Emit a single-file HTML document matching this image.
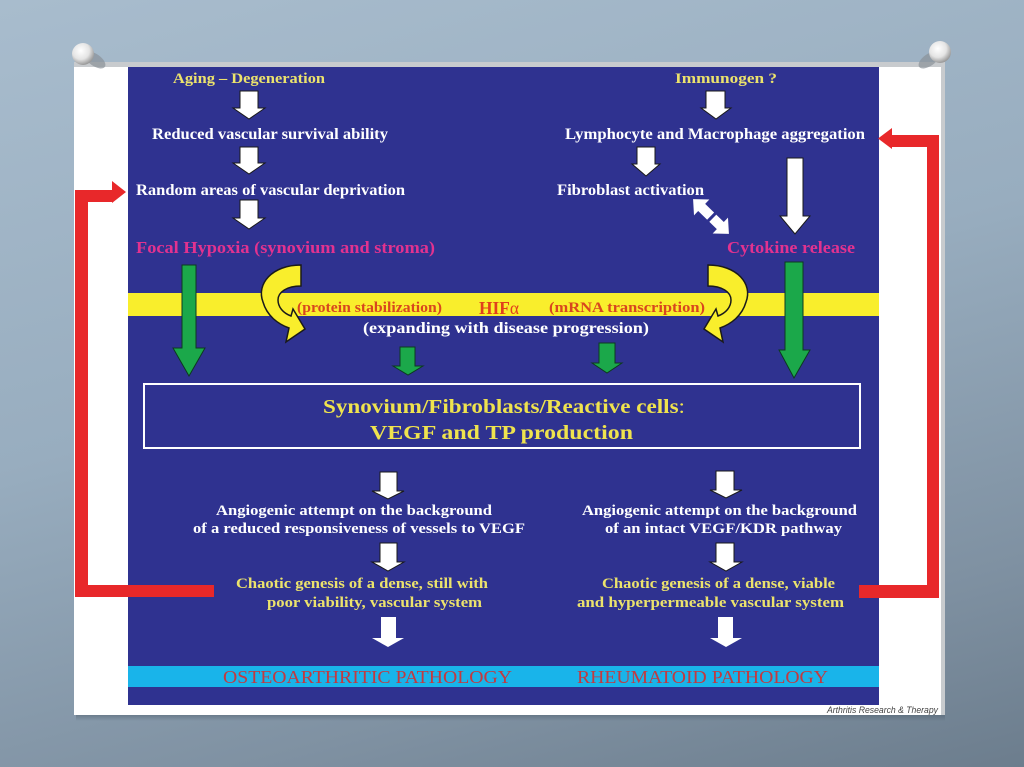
<!DOCTYPE html>
<html><head><meta charset="utf-8">
<style>
html,body{margin:0;padding:0;width:1024px;height:767px;overflow:hidden;}
body{background:linear-gradient(165deg,#a8bccd 0%,#98adbf 45%,#7f91a2 80%,#6c7d8d 100%);}
svg{display:block;}
.s{font-family:"Liberation Serif",serif;font-weight:bold;}
</style></head><body>
<svg width="1024" height="767" viewBox="0 0 1024 767" xmlns="http://www.w3.org/2000/svg">
<defs>
<radialGradient id="pin" cx="40%" cy="35%" r="65%">
<stop offset="0" stop-color="#ffffff"/><stop offset="0.6" stop-color="#e4e4e4"/><stop offset="1" stop-color="#9a9a9a"/>
</radialGradient>
<linearGradient id="sh" x1="0" y1="0" x2="0" y2="1">
<stop offset="0" stop-color="#50606e" stop-opacity="0.5"/><stop offset="1" stop-color="#50606e" stop-opacity="0"/>
</linearGradient>
</defs>

<!-- card shadow -->
<rect x="76" y="715" width="869" height="6" fill="url(#sh)"/>
<!-- card -->
<rect x="74" y="62" width="871" height="653" fill="#c8cbce"/>
<rect x="74" y="67" width="867" height="648" fill="#ffffff"/>
<!-- blue panel -->
<rect x="128" y="67" width="751" height="638" fill="#2f3290"/>

<!-- pins -->
<ellipse cx="95" cy="60" rx="12" ry="6" fill="#8a9298" opacity="0.7" transform="rotate(35 95 60)"/>
<circle cx="83" cy="54" r="11" fill="url(#pin)"/>
<ellipse cx="929" cy="60" rx="12" ry="6" fill="#8a9298" opacity="0.7" transform="rotate(-35 929 60)"/>
<circle cx="940" cy="52" r="11" fill="url(#pin)"/>

<!-- yellow band -->
<rect x="128" y="293" width="751" height="23" fill="#f9ee2c"/>
<!-- cyan band -->
<rect x="128" y="666" width="751" height="21" fill="#19b4ea"/>

<!-- box -->
<rect x="144" y="384" width="716" height="64" fill="none" stroke="#ffffff" stroke-width="2"/>

<!-- red arrows -->
<path d="M75,190 L112,190 L112,181 L126,192 L112,203 L112,202 L88,202 L88,585 L214,585 L214,597 L75,597 Z" fill="#e8282a"/>
<path d="M939,135 L892,135 L892,128 L878,138.5 L892,149 L892,147 L927,147 L927,585 L859,585 L859,598 L939,598 Z" fill="#e8282a"/>

<!-- white arrows (outlined) -->
<g fill="#ffffff" stroke="#1a1a1a" stroke-width="1">
<path d="M240,91 L258,91 L258,108 L265,108 L249,119 L233,108 L240,108 Z"/>
<path d="M240,147 L258,147 L258,163 L265,163 L249,174 L233,163 L240,163 Z"/>
<path d="M240,200 L258,200 L258,218 L265,218 L249,229 L233,218 L240,218 Z"/>
<path d="M706,91 L725,91 L725,108 L731,108 L716,119 L701,108 L706,108 Z"/>
<path d="M637,147 L655,147 L655,164 L660,164 L646,176 L632,164 L637,164 Z"/>
<path d="M787,158 L803,158 L803,216 L810,216 L795,234 L780,216 L787,216 Z"/>
<path d="M380,472 L397,472 L397,491 L404,491 L388,499 L372,491 L380,491 Z"/>
<path d="M380,543 L397,543 L397,562 L404,562 L388,571 L372,562 L380,562 Z"/>
<path d="M716,471 L734,471 L734,490 L742,490 L726,498 L710,490 L716,490 Z"/>
<path d="M716,543 L734,543 L734,562 L742,562 L726,571 L710,562 L716,562 Z"/>
</g>
<g fill="#ffffff">
<path d="M381,617 L396,617 L396,638 L404,638 L388,647 L372,638 L381,638 Z"/>
<path d="M718,617 L733,617 L733,638 L742,638 L726,647 L710,638 L718,638 Z"/>
</g>

<!-- double arrow -->
<g transform="translate(711,216.5) rotate(44.2)">
<polygon points="-25,0 -13,-11 -13,-5 13,-5 13,-11 25,0 13,11 13,5 -13,5 -13,11" fill="#ffffff"/>
<line x1="1" y1="-7" x2="1" y2="7" stroke="#2f3290" stroke-width="3"/>
</g>

<!-- green arrows -->
<g fill="#1ba84a" stroke="#0d3a20" stroke-width="1">
<path d="M182,265 L196,265 L196,348 L205,348 L189,376 L173,348 L182,348 Z"/>
<path d="M785,262 L803,262 L803,350 L810,350 L794,378 L779,350 L785,350 Z"/>
<path d="M400,347 L415,347 L415,366 L423,366 L408,375 L393,366 L400,366 Z"/>
<path d="M599,343 L615,343 L615,363 L622,363 L607,373 L592,363 L599,363 Z"/>
</g>

<!-- curved yellow arrows -->
<path d="M301,265 C272,265 256,284 263,302 C267,316 278,324 289,328 L286,342 L305,329 L293,309 L291,316 C283,313 278,307 278,300 C278,292 287,286 301,286 Z" fill="#f9ee2c" stroke="#1a1a1a" stroke-width="1.5"/>
<path d="M301,265 C272,265 256,284 263,302 C267,316 278,324 289,328 L286,342 L305,329 L293,309 L291,316 C283,313 278,307 278,300 C278,292 287,286 301,286 Z" fill="#f9ee2c" stroke="#1a1a1a" stroke-width="1.5" transform="translate(1009,0) scale(-1,1)"/>

<!-- texts -->
<g class="s">
<text x="173" y="83" font-size="15" fill="#ece36c" textLength="152" lengthAdjust="spacingAndGlyphs">Aging – Degeneration</text>
<text x="152" y="139" font-size="16" fill="#ffffff" textLength="236" lengthAdjust="spacingAndGlyphs">Reduced vascular survival ability</text>
<text x="136" y="195" font-size="16" fill="#ffffff" textLength="269" lengthAdjust="spacingAndGlyphs">Random areas of vascular deprivation</text>
<text x="136" y="253" font-size="17" fill="#e2328f" textLength="299" lengthAdjust="spacingAndGlyphs">Focal Hypoxia (synovium and stroma)</text>

<text x="675" y="83" font-size="15" fill="#ece36c" textLength="102" lengthAdjust="spacingAndGlyphs">Immunogen  ?</text>
<text x="565" y="139" font-size="16" fill="#ffffff" textLength="300" lengthAdjust="spacingAndGlyphs">Lymphocyte and Macrophage aggregation</text>
<text x="557" y="195" font-size="16" fill="#ffffff" textLength="147" lengthAdjust="spacingAndGlyphs">Fibroblast activation</text>
<text x="727" y="253" font-size="17" fill="#e2328f" textLength="128" lengthAdjust="spacingAndGlyphs">Cytokine release</text>

<text x="297" y="312" font-size="15" fill="#d8461e" textLength="145" lengthAdjust="spacingAndGlyphs">(protein stabilization)</text>
<text x="479" y="314" font-size="18" fill="#e0401c" textLength="40" lengthAdjust="spacingAndGlyphs">HIF<tspan font-weight="normal">α</tspan></text>
<text x="549" y="312" font-size="15" fill="#d8461e" textLength="156" lengthAdjust="spacingAndGlyphs">(mRNA transcription)</text>
<text x="363" y="333" font-size="16" fill="#ffffff" textLength="286" lengthAdjust="spacingAndGlyphs">(expanding with disease progression)</text>

<text x="323" y="413" font-size="20" fill="#efe34e" textLength="362" lengthAdjust="spacingAndGlyphs">Synovium/Fibroblasts/Reactive cells<tspan font-weight="normal">:</tspan></text>
<text x="370" y="439" font-size="20" fill="#efe34e" textLength="263" lengthAdjust="spacingAndGlyphs">VEGF and TP  production</text>

<text x="216" y="515" font-size="15" fill="#ffffff" textLength="276" lengthAdjust="spacingAndGlyphs">Angiogenic attempt on the background</text>
<text x="193" y="533" font-size="15" fill="#ffffff" textLength="332" lengthAdjust="spacingAndGlyphs">of a reduced responsiveness of vessels to VEGF</text>
<text x="236" y="588" font-size="15" fill="#ece36c" textLength="252" lengthAdjust="spacingAndGlyphs">Chaotic genesis of a dense, still with</text>
<text x="267" y="607" font-size="15" fill="#ece36c" textLength="215" lengthAdjust="spacingAndGlyphs">poor viability, vascular system</text>

<text x="582" y="515" font-size="15" fill="#ffffff" textLength="275" lengthAdjust="spacingAndGlyphs">Angiogenic attempt on the background</text>
<text x="605" y="533" font-size="15" fill="#ffffff" textLength="237" lengthAdjust="spacingAndGlyphs">of an intact VEGF/KDR pathway</text>
<text x="602" y="588" font-size="15" fill="#ece36c" textLength="233" lengthAdjust="spacingAndGlyphs">Chaotic genesis of a dense, viable</text>
<text x="577" y="607" font-size="15" fill="#ece36c" textLength="267" lengthAdjust="spacingAndGlyphs">and  hyperpermeable vascular system</text>
</g>

<g font-family="Liberation Serif, serif">
<text x="223" y="683" font-size="18" fill="#c23a40" textLength="289" lengthAdjust="spacingAndGlyphs">OSTEOARTHRITIC PATHOLOGY</text>
<text x="577" y="683" font-size="18" fill="#c23a40" textLength="251" lengthAdjust="spacingAndGlyphs">RHEUMATOID PATHOLOGY</text>
</g>

<text x="827" y="713" font-family="Liberation Sans, sans-serif" font-style="italic" font-size="9" fill="#444444" textLength="111" lengthAdjust="spacingAndGlyphs">Arthritis Research &amp; Therapy</text>
</svg>
</body></html>
